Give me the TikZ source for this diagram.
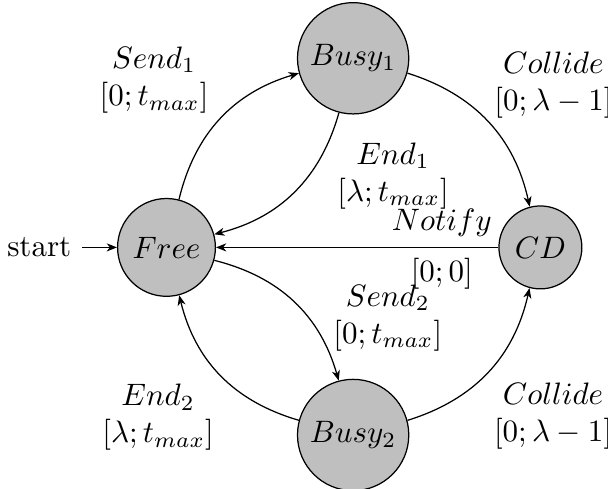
\documentclass[tikz,border=0pt]{standalone}
\usetikzlibrary{automata,arrows.meta}

\begin{document}
\begin{tikzpicture}[x=1pt,y=1pt,
  >={Stealth[length=3.3pt,width=2.6pt,inset=1pt]},
  statenode/.style={state,draw,fill=gray!50,minimum size=2.5em},
  busynode/.style={statenode,inner sep=2.6pt},
  lbl/.style={align=center},
  initial distance=2.6ex,
  every initial by arrow/.style={->}]

  \useasboundingbox (-53.7,-77.9) rectangle (142.4,79.8);

  % states
  \node[statenode,initial,initial text=start] (F)  at (0,0)       {$Free$};
  \node[busynode]                             (B1) at (60.2,61)   {$Busy_1$};
  \node[statenode]                            (CD) at (120.6,0)   {$CD$};
  \node[busynode]                             (B2) at (60.2,-60.5){$Busy_2$};

  % transitions
  \path[->]
    (F)  edge[bend left]  (B1)
    (B1) edge[bend left]  (F)
    (B1) edge[bend left]  (CD)
    (CD) edge node[above,pos=.2] (lNotify) {$Notify$}
              node[below,pos=.2] (lZero)   {$[0;0]$} (F)
    (F)  edge[bend left]  (B2)
    (B2) edge[bend left]  (F)
    (B2) edge[bend right] (CD);

  % transition guards
  \node[lbl] (lSend1)    at (-4,54)      {$Send_1$\\$[0;t_{max}]$};
  \node[lbl] (lEnd1)     at (73.1,23.1)  {$End_1$\\$[\lambda;t_{max}]$};
  \node[lbl] (lCollide1) at (124.8,52.4) {$Collide$\\$[0;\lambda-1]$};
  \node[lbl] (lSend2)    at (71.4,-22.7) {$Send_2$\\$[0;t_{max}]$};
  \node[lbl] (lEnd2)     at (-2.7,-54.8) {$End_2$\\$[\lambda;t_{max}]$};
  \node[lbl] (lCollide2) at (124.7,-54.4){$Collide$\\$[0;\lambda-1]$};
\end{tikzpicture}
\end{document}
